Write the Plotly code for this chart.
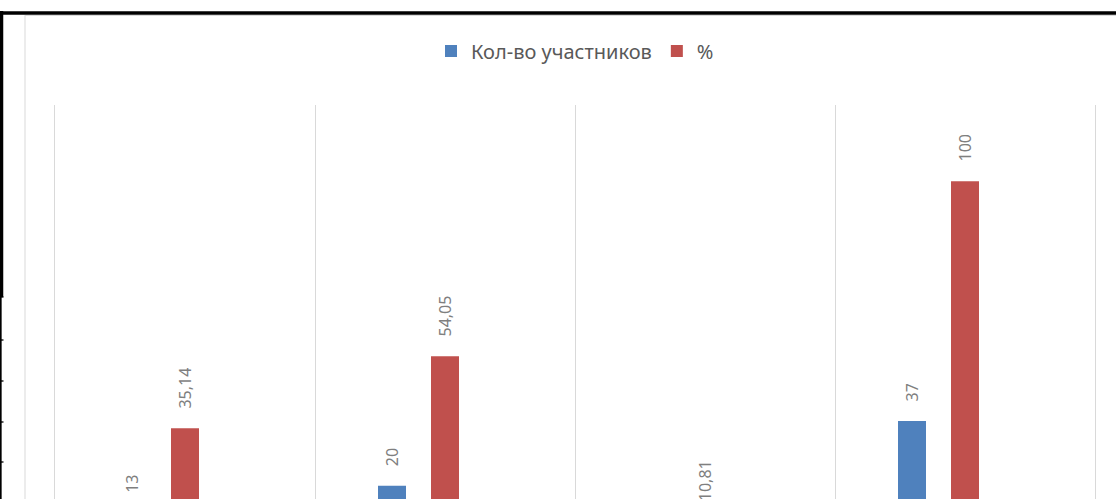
import plotly.graph_objects as go

# ---- data ----
categories = ["Категория 1", "Категория 2", "Категория 3", "Всего"]
participants = [13, 20, 4, 37]
percent = [35.14, 54.05, 10.81, 100]
series_names = ["Кол-во участников", "%"]

W, H = 1116, 600          # figure is taller than the 499px window; bottom is cut off like the reference
ML, MR, MT, MB = 55, 21, 105, 38
PW, PH = W - ML - MR, H - MT - MB

BLUE = "#4f81bd"
RED = "#c0504d"
GRID = "#d9d9d9"
LABEL = "#7f7f7f"
FONT = "Noto Sans"


def fmt(v):
    return ("%g" % v).replace(".", ",")


PAD = "\u00a0\u00a0\u00a0\u00a0"

bar_w = 28 / 260
fig = go.Figure()
fig.add_trace(go.Bar(
    x=categories, y=participants, name=series_names[0],
    marker=dict(color=BLUE, line=dict(width=0)),
    width=bar_w, offset=-53 / 260 - bar_w / 2,
    text=[PAD + fmt(v) for v in participants],
    textposition="outside", textangle=-90, cliponaxis=False,
    constraintext="none",
    textfont=dict(family=FONT, size=16, color=LABEL),
))
fig.add_trace(go.Bar(
    x=categories, y=percent, name=series_names[1],
    marker=dict(color=RED, line=dict(width=0)),
    width=bar_w, offset=-bar_w / 2,
    text=[PAD + fmt(v) for v in percent],
    textposition="outside", textangle=-90, cliponaxis=False,
    constraintext="none",
    textfont=dict(family=FONT, size=16, color=LABEL),
))


def px2x(px):
    return (px - ML) / PW


def py2y(py):
    return (H - MB - py) / PH


shapes = []
# chart-area border (light gray)
shapes.append(dict(type="line", xref="paper", yref="paper",
                   x0=px2x(25), x1=px2x(25), y0=py2y(15), y1=py2y(H),
                   line=dict(color=GRID, width=1)))
shapes.append(dict(type="line", xref="paper", yref="paper",
                   x0=px2x(25), x1=px2x(W + 5), y0=py2y(15.5), y1=py2y(15.5),
                   line=dict(color=GRID, width=1)))
# black sheet borders
shapes.append(dict(type="line", xref="paper", yref="paper",
                   x0=px2x(0), x1=px2x(W + 5), y0=py2y(13), y1=py2y(13),
                   line=dict(color="black", width=3.5)))
shapes.append(dict(type="line", xref="paper", yref="paper",
                   x0=px2x(1.6), x1=px2x(1.6), y0=py2y(11), y1=py2y(297),
                   line=dict(color="black", width=3.3)))
shapes.append(dict(type="line", xref="paper", yref="paper",
                   x0=px2x(0.8), x1=px2x(0.8), y0=py2y(297), y1=py2y(H),
                   line=dict(color="black", width=1.7)))
for ty in [297, 340, 381, 422, 462]:
    shapes.append(dict(type="line", xref="paper", yref="paper",
                       x0=px2x(0), x1=px2x(3.5), y0=py2y(ty), y1=py2y(ty),
                       line=dict(color="black", width=1.3)))

fig.update_layout(
    width=W, height=H,
    margin=dict(l=ML, r=MR, t=MT, b=MB, pad=0),
    paper_bgcolor="white", plot_bgcolor="white",
    barmode="overlay",
    showlegend=True,
    legend=dict(orientation="h", x=0.5, xanchor="center",
                y=py2y(51), yanchor="middle",
                font=dict(family=FONT, size=20, color="#595959"),
                itemwidth=30, traceorder="normal", bgcolor="rgba(0,0,0,0)"),
    xaxis=dict(type="category", tickson="boundaries", showgrid=True,
               gridcolor=GRID, gridwidth=1.3, ticks="", showline=False,
               zeroline=False, range=[-0.5, 3.5], showticklabels=False),
    yaxis=dict(range=[0, 120], showgrid=False, zeroline=False,
               showticklabels=False, ticks="",
               showline=True, mirror=True, linecolor=GRID, linewidth=1.3),
    shapes=shapes,
)

fig.write_html(
    "out.html",
    config={"displayModeBar": False},
    post_script="document.body.style.margin='0';"
                "document.body.style.overflow='hidden';"
                "document.documentElement.style.overflow='hidden';",
)
